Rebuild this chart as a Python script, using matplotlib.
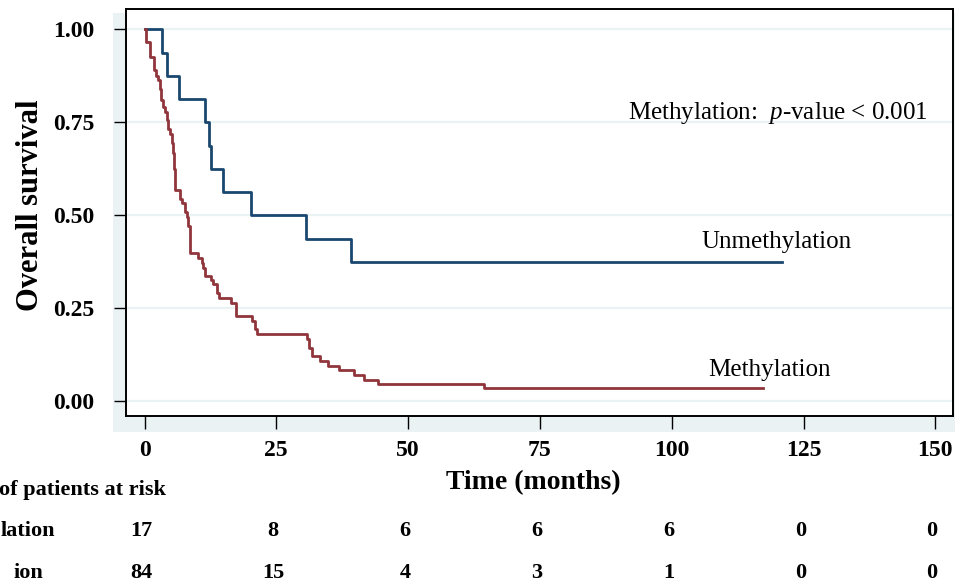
import matplotlib
matplotlib.use('Agg')
import matplotlib.pyplot as plt
from matplotlib.patches import Rectangle
from matplotlib.transforms import blended_transform_factory

plt.rcParams['font.family'] = ['Liberation Serif', 'DejaVu Serif']
plt.rcParams['mathtext.fontset'] = 'custom'
plt.rcParams['mathtext.rm'] = 'Liberation Serif'
plt.rcParams['mathtext.it'] = 'Liberation Serif:italic'

# Kaplan-Meier steps (time in months, survival after the drop)
unmeth_times = [3.4, 4.3, 6.5, 11.4, 12.2, 12.65, 14.8, 20.2, 30.7, 39.1]
unmeth_surv = [0.9375, 0.875, 0.8125, 0.75, 0.6875, 0.625, 0.5625, 0.5, 0.4375, 0.375]
unmeth_end = 120.9

meth_times = [0.28, 1.04, 1.74, 2.2, 2.6, 2.9, 3.07, 3.45, 3.9, 4.2, 4.5, 4.84, 5.16,
              5.35, 5.5, 5.8, 6.73, 7.05, 7.7, 8.0, 8.3, 8.63, 10.2, 10.85, 11.15,
              11.47, 12.55, 12.93, 13.7, 14.2, 16.5, 17.35, 20.3, 20.96, 21.27, 30.9,
              31.25, 31.8, 33.3, 34.9, 36.9, 39.7, 41.6, 44.3, 64.4]
meth_surv = [0.966, 0.926, 0.890, 0.875, 0.863, 0.841, 0.810, 0.792, 0.778, 0.756,
             0.733, 0.720, 0.694, 0.667, 0.624, 0.568, 0.545, 0.533, 0.510, 0.497,
             0.471, 0.399, 0.385, 0.371, 0.360, 0.336, 0.327, 0.315, 0.291, 0.278,
             0.265, 0.229, 0.216, 0.194, 0.181, 0.167, 0.144, 0.121, 0.108, 0.0965,
             0.084, 0.072, 0.059, 0.048, 0.036]
meth_end = 117.4

risk_times = [0, 25, 50, 75, 100, 125, 150]
risk_unmeth = [17, 8, 6, 6, 6, 0, 0]
risk_meth = [84, 15, 4, 3, 1, 0, 0]

x_ticks = [0, 25, 50, 75, 100, 125, 150]
y_ticks = [0.0, 0.25, 0.5, 0.75, 1.0]

blue = '#1a476f'
red = '#90353b'
light = '#eaf2f3'

W, H = 969, 588
fig = plt.figure(figsize=(W / 100, H / 100), dpi=100)
fig.patch.set_facecolor('white')

# graph region background (light), drawn on its own axes behind the plot
bg = fig.add_axes([0, 0, 1, 1], zorder=0)
bg.set_xlim(0, W)
bg.set_ylim(H, 0)
bg.axis('off')
bg.add_patch(Rectangle((113, 13), 955 - 113, 432 - 13, facecolor=light, edgecolor='none'))

ax = fig.add_axes([126 / W, 1 - 416 / H, (952.7 - 126) / W, (416 - 9) / H], zorder=2)
ax.set_facecolor('white')
ax.set_xlim(-3.51, 153.3)
ax.set_ylim(-0.039, 1.055)

for yv in y_ticks:
    ax.axhline(yv, color=light, lw=1.6, zorder=1)

ax.step([0] + unmeth_times + [unmeth_end], [1.0] + unmeth_surv + [unmeth_surv[-1]],
        where='post', color=blue, lw=2.0, zorder=3)
ax.step([0] + meth_times + [meth_end], [1.0] + meth_surv + [meth_surv[-1]],
        where='post', color=red, lw=2.0, zorder=3)

ax.set_xticks(x_ticks)
ax.set_yticks(y_ticks)
ax.set_xticklabels([str(v) for v in x_ticks], fontweight='bold', fontsize=17)
ax.set_yticklabels(['%.2f' % v for v in y_ticks], fontweight='bold', fontsize=17)
ax.tick_params(axis='both', direction='out', length=9, width=1.0, color='black')
ax.tick_params(axis='y', pad=14)
ax.tick_params(axis='x', pad=8)
for sp in ax.spines.values():
    sp.set_linewidth(1.4)
    sp.set_color('black')

ax.text(91.7, 0.776, 'Methylation:  $\\it{p}$-value < 0.001', fontsize=18,
        ha='left', va='center')
ax.text(105.7, 0.429, 'Unmethylation', fontsize=18, ha='left', va='center')
ax.text(106.9, 0.085, 'Methylation', fontsize=18, ha='left', va='center')

fig.text(31 / W, 1 - 205 / H, 'Overall survival', rotation=90, fontsize=22,
         fontweight='bold', ha='center', va='center')
fig.text(533 / W, 1 - 483 / H, 'Time (months)', fontsize=20, fontweight='bold',
         ha='center', va='center')

# number at risk table (left part is cropped in the source image)
fig.text(166 / W, 1 - 490 / H, 'of patients at risk', fontsize=16,
         fontweight='bold', ha='right', va='center')
fig.text(55 / W, 1 - 531 / H, 'lation', fontsize=16, fontweight='bold',
         ha='right', va='center')
fig.text(43 / W, 1 - 573 / H, 'ion', fontsize=16, fontweight='bold',
         ha='right', va='center')
tr = blended_transform_factory(ax.transData, fig.transFigure)
for t, a, b in zip(risk_times, risk_unmeth, risk_meth):
    fig.text(t - 0.6, 1 - 531 / H, str(a), transform=tr, fontsize=16,
             fontweight='bold', ha='center', va='center')
    fig.text(t - 0.6, 1 - 573 / H, str(b), transform=tr, fontsize=16,
             fontweight='bold', ha='center', va='center')

fig.savefig('out.png', dpi=100)
